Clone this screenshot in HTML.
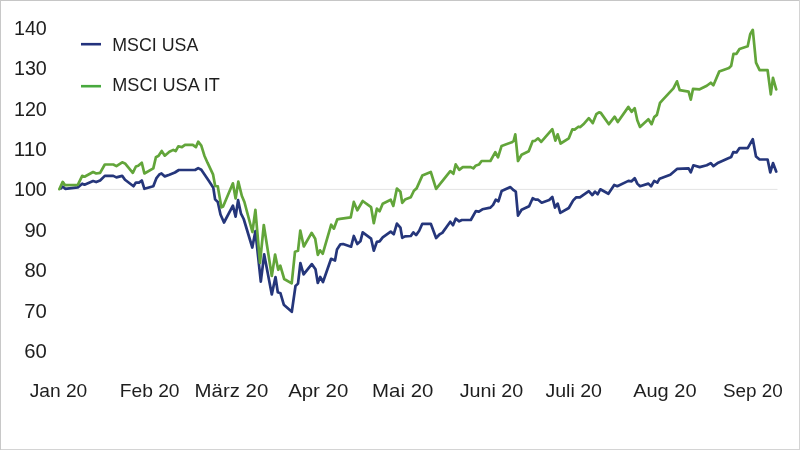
<!DOCTYPE html>
<html><head><meta charset="utf-8"><style>
html,body{margin:0;padding:0;background:#fff;}
body{width:800px;height:450px;overflow:hidden;}
svg{display:block;}
.t{opacity:0.999;}
text{font-family:"Liberation Sans",sans-serif;font-size:19.5px;fill:#1e1e1e;}
</style></head><body>
<svg width="800" height="450" viewBox="0 0 800 450">
<rect x="0" y="0" width="800" height="450" fill="#fff"/>
<line x1="59" y1="189.4" x2="777.5" y2="189.4" stroke="#e4e4e4" stroke-width="1"/>
<polyline fill="none" stroke="#25367b" stroke-width="2.7" stroke-linejoin="round" stroke-linecap="round" points="60.8,188.4 62.8,186.6 65.2,188.8 77.8,187.4 82.2,183.7 84.5,184.7 93.1,181.0 96.2,182.1 100.1,180.5 104.8,175.9 113.3,175.9 116.4,177.4 122.2,175.9 125.0,179.8 133.5,186.3 135.9,182.6 139.0,182.6 141.8,180.5 144.4,188.8 153.3,186.2 156.3,178.4 159.3,174.5 161.5,173.4 164.8,176.4 169.4,174.8 174.9,172.5 178.8,170.0 195.1,170.0 198.2,168.1 201.3,169.7 209.1,181.3 213.3,187.8 215.1,199.4 217.8,202.0 220.5,214.5 224.0,222.5 232.9,205.6 235.6,216.6 238.1,200.2 241.0,213.7 243.7,219.0 252.3,247.5 255.4,231.2 260.8,281.7 264.2,254.4 271.8,294.4 275.5,277.0 277.8,292.3 280.5,293.3 283.8,304.7 291.8,311.8 295.5,286.0 298.0,283.6 300.4,263.0 303.6,274.4 311.8,264.1 315.5,269.2 317.8,283.0 320.2,277.0 323.0,282.0 331.1,258.8 335.0,260.5 337.0,249.5 340.4,244.3 343.1,244.0 351.1,246.7 353.8,236.0 357.3,244.0 360.4,241.3 362.7,232.4 371.1,238.7 373.8,250.7 376.9,241.8 379.6,241.3 382.7,237.3 390.7,231.6 393.8,234.2 396.9,223.6 400.4,227.6 402.2,237.8 405.0,236.4 410.8,236.0 413.4,232.4 416.1,235.1 419.2,230.7 422.3,223.8 430.8,223.8 436.1,238.0 439.7,234.2 442.3,232.9 450.3,221.8 453.0,225.3 455.7,218.7 459.2,221.3 461.9,220.0 470.8,220.0 475.8,211.1 478.9,211.6 482.4,209.3 490.4,207.6 493.1,204.9 495.8,199.6 498.4,201.3 501.6,191.1 510.4,187.1 513.6,190.2 515.8,191.6 518.0,215.6 521.6,209.8 529.1,206.2 532.7,198.2 535.5,199.6 538.1,199.7 541.7,202.7 549.2,200.0 552.3,196.9 555.0,207.6 557.7,203.6 560.3,212.9 568.8,208.0 573.2,200.4 576.3,197.3 579.9,197.3 588.8,191.1 592.3,195.1 595.0,191.6 597.7,194.2 600.3,189.3 608.4,193.8 614.2,184.9 617.3,186.2 628.4,180.9 631.6,181.3 634.7,178.2 637.3,183.6 640.0,186.2 648.4,183.6 651.1,186.2 654.2,180.9 657.3,182.7 659.6,178.7 670.3,174.7 677.0,168.9 688.6,168.4 690.8,172.4 693.4,165.3 699.7,167.1 706.8,165.3 710.8,163.1 713.4,166.2 718.3,162.7 727.2,158.7 731.2,156.9 733.2,152.2 736.5,152.4 739.5,148.1 747.7,148.1 752.8,139.2 756.0,156.5 759.6,159.5 767.6,159.5 770.3,172.5 773.0,163.1 776.2,171.6"/>
<polyline fill="none" stroke="#62a53a" stroke-width="2.7" stroke-linejoin="round" stroke-linecap="round" points="59.3,189.2 62.7,181.9 65.0,185.1 77.8,184.9 82.2,175.9 84.5,176.7 93.1,172.0 96.2,173.5 100.1,172.8 104.8,164.5 113.3,164.5 116.4,166.1 122.2,162.3 125.0,163.4 132.8,172.8 135.9,166.5 138.2,165.8 141.8,162.7 144.4,173.5 153.3,168.4 155.9,157.2 158.6,155.7 161.7,151.0 164.8,155.7 169.4,151.8 173.3,149.9 175.7,151.0 178.3,146.3 181.9,147.1 185.0,144.8 192.8,144.8 195.9,147.1 198.2,141.7 201.3,145.6 204.4,155.7 207.5,162.7 213.0,174.3 215.2,186.0 217.8,186.4 221.4,207.4 223.1,206.5 232.9,183.3 235.6,198.5 238.3,181.6 241.8,195.8 244.4,202.0 252.4,232.0 255.4,209.9 260.0,263.0 263.8,225.0 271.8,276.0 275.1,254.5 278.2,269.8 280.3,265.6 284.2,279.0 291.7,283.3 295.0,251.7 298.0,250.8 300.3,230.5 303.8,246.5 311.6,232.8 315.2,238.7 317.8,254.8 320.0,250.3 322.7,253.8 331.2,224.7 333.9,228.7 337.3,219.3 340.0,218.8 350.7,217.4 353.8,201.9 357.3,210.3 362.7,201.0 371.1,207.2 373.8,223.2 376.9,208.6 379.6,211.2 382.7,203.7 390.7,199.7 393.3,205.9 396.9,188.6 400.4,191.7 402.2,202.8 405.0,199.6 410.8,197.3 413.9,190.7 416.6,188.4 422.3,175.6 430.8,172.0 436.1,188.9 450.3,171.1 453.4,173.8 455.7,164.4 459.2,169.8 462.8,167.1 470.8,167.1 473.4,168.4 475.5,165.8 478.9,164.6 481.6,161.0 490.4,161.0 495.3,152.1 498.0,157.4 501.6,145.9 511.8,142.3 513.6,141.0 515.3,134.3 518.0,161.0 521.6,154.8 528.7,151.2 532.7,141.0 535.0,140.8 538.1,138.3 541.2,141.9 552.3,129.2 555.4,140.6 557.7,134.3 560.6,143.5 568.8,138.3 572.3,129.4 574.6,129.6 578.4,126.7 580.3,127.1 583.4,124.3 588.8,118.2 592.8,123.1 596.3,114.2 599.0,112.4 600.8,112.9 608.9,124.2 614.7,116.7 617.8,122.0 628.4,106.9 631.6,111.8 634.7,108.2 637.3,120.2 640.0,126.9 648.4,119.3 651.6,124.2 654.2,117.1 656.9,114.9 660.0,102.9 662.7,99.8 673.4,88.4 677.0,81.3 679.7,90.2 688.6,91.6 690.8,99.6 693.0,88.9 699.7,89.3 706.8,85.8 710.8,82.7 713.4,85.3 719.2,71.6 729.0,68.0 731.2,65.8 733.5,53.8 736.5,53.8 739.5,49.0 747.7,46.3 750.2,34.2 752.8,29.8 756.0,62.7 759.6,70.2 767.6,70.2 770.8,94.4 773.0,77.8 776.2,89.4"/>
<line x1="81" y1="44.2" x2="101" y2="44.2" stroke="#23327d" stroke-width="2.6"/>
<line x1="81" y1="86.2" x2="101" y2="86.2" stroke="#48a93e" stroke-width="2.6"/>
<g class="t"><text style="font-size:19.5px" transform="translate(13.92,34.90) scale(1.0124,1)">140</text>
<text style="font-size:19.5px" transform="translate(13.92,75.28) scale(1.0124,1)">130</text>
<text style="font-size:19.5px" transform="translate(13.92,115.66) scale(1.0124,1)">120</text>
<text style="font-size:19.5px" transform="translate(13.85,156.04) scale(1.0603,1)">110</text>
<text style="font-size:19.5px" transform="translate(13.92,196.42) scale(1.0124,1)">100</text>
<text style="font-size:19.5px" transform="translate(24.39,236.80) scale(1.0356,1)">90</text>
<text style="font-size:19.5px" transform="translate(24.39,277.18) scale(1.0356,1)">80</text>
<text style="font-size:19.5px" transform="translate(24.29,317.56) scale(1.0407,1)">70</text>
<text style="font-size:19.5px" transform="translate(24.29,357.94) scale(1.0407,1)">60</text>
<text style="font-size:18.6px" transform="translate(29.71,396.90) scale(1.0315,1)">Jan 20</text>
<text style="font-size:18.6px" transform="translate(119.71,396.90) scale(1.0339,1)">Feb 20</text>
<text style="font-size:18.6px" transform="translate(194.62,396.90) scale(1.0976,1)">März 20</text>
<text style="font-size:18.6px" transform="translate(288.15,396.90) scale(1.0984,1)">Apr 20</text>
<text style="font-size:18.6px" transform="translate(372.12,396.90) scale(1.0967,1)">Mai 20</text>
<text style="font-size:18.6px" transform="translate(459.70,396.90) scale(1.0600,1)">Juni 20</text>
<text style="font-size:18.6px" transform="translate(545.46,396.90) scale(1.0525,1)">Juli 20</text>
<text style="font-size:18.6px" transform="translate(633.15,396.90) scale(1.0761,1)">Aug 20</text>
<text style="font-size:18.6px" transform="translate(722.90,396.90) scale(1.0151,1)">Sep 20</text>
<text style="font-size:19.0px" transform="translate(112.28,50.80) scale(0.9374,1)">MSCI USA</text>
<text style="font-size:19.0px" transform="translate(112.25,91.00) scale(0.9536,1)">MSCI USA IT</text></g>
<rect x="0" y="0" width="800" height="1" fill="#c6c6c6"/><rect x="0" y="449" width="800" height="1" fill="#d4d4d4"/><rect x="0" y="0" width="1" height="450" fill="#c8c8c8"/><rect x="799" y="0" width="1" height="450" fill="#d4d4d4"/>
</svg>
</body></html>
